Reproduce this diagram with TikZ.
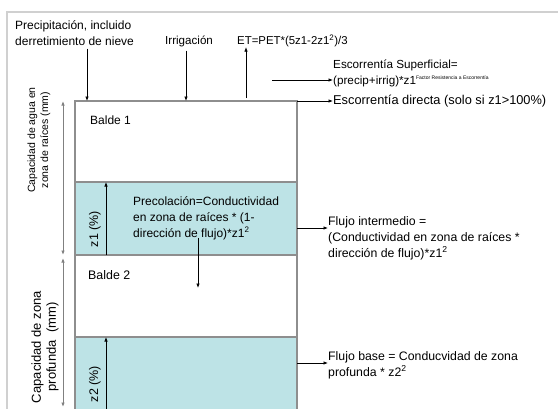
\documentclass[tikz,border=0pt]{standalone}
\usepackage{fontspec}
\setmainfont{Liberation Sans}
\usetikzlibrary{arrows.meta}
\definecolor{cyanfill}{HTML}{BDE3E6}
\definecolor{boxline}{HTML}{8E8E8E}
\definecolor{frameline}{HTML}{D0D0D0}
\newcommand\myfs[1]{\fontsize{#1}{16}\selectfont}
\begin{document}
\begin{tikzpicture}[x=1pt,y=-1pt,
  txt/.style={inner sep=0pt, anchor=west, align=left, font=\myfs{12}},
  rtxt/.style={inner sep=0pt, rotate=90, align=center},
  arr/.style={-{Latex[length=4.5pt,width=3.5pt]}, line width=0.7pt},
  darr/.style={{Latex[length=4.5pt,width=3.5pt]}-{Latex[length=4.5pt,width=3.5pt]}, line width=0.9pt, draw=gray},
  zone/.style={draw=boxline, line width=1.1pt}]
\useasboundingbox (0,0) rectangle (558,408);
\clip (0,0) rectangle (558,408);
% frame
\draw[frameline, line width=1.5pt] (7,430) |- (580,12);
% fills
\fill[cyanfill] (75,182) rectangle (297,255);
\fill[cyanfill] (75,337) rectangle (297,430);
% box
\draw[zone] (75,430) -- (75,101) -- (297,101) -- (297,430);
\draw[zone] (75,182) -- (297,182);
\draw[zone] (75,255) -- (297,255);
\draw[zone] (75,337) -- (297,337);
% coordinates
\coordinate (precipIn) at (87,101);
\coordinate (irrIn) at (186,101);
\coordinate (etOut) at (246,98);
\coordinate (supStart) at (272,80);
\coordinate (boxTR) at (297,101);
\coordinate (interStart) at (297,228);
\coordinate (baseStart) at (297,363);
\coordinate (z1bot) at (106,255);
\coordinate (z1top) at (106,182);
\coordinate (z2bot) at (106,410);
\coordinate (z2top) at (106,337);
\coordinate (percEnd) at (198,288);
\coordinate (c1top) at (63,101);
\coordinate (c1bot) at (63,255);
\coordinate (c2top) at (63,258);
\coordinate (c2bot) at (63,407);
% top texts
\node[txt] (precip) at (15,33) {Precipitación, incluido\\derretimiento de nieve};
\node[txt, font=\myfs{11.6}] (irr) at (165,41) {Irrigación};
\node[txt, font=\myfs{11.4}] (et) at (237,41) {ET=PET*(5z1-2z1\textsuperscript{2})/3};
% right texts
\node[txt, font=\myfs{11.7}] (sup) at (333,73) {Escorrentía Superficial=\\(precip+irrig)*z1\textsuperscript{\fontsize{5}{5}\selectfont Factor Resistencia a Escorrentía}};
\node[txt, font=\myfs{12.8}] (dir) at (333,101) {Escorrentía directa (solo si z1>100\%)};
\node[txt, font=\myfs{12.3}] (inter) at (328,238) {Flujo intermedio =\\(Conductividad en zona de raíces *\\dirección de flujo)*z1\textsuperscript{2}};
\node[txt, font=\myfs{12.3}] (base) at (328,365) {Flujo base = Conducvidad de zona\\profunda * z2\textsuperscript{2}};
% inner texts
\node[txt] (b1) at (90,120) {Balde 1};
\node[txt, font=\myfs{12.4}] (b2) at (88,275) {Balde 2};
\node[txt] (perc) at (133,218) {Precolación=Conductividad\\en zona de raíces * (1-\\dirección de flujo)*z1\textsuperscript{2}};
\node[rtxt, font=\myfs{12.5}] (z1l) at (95,229) {z1 (\%)};
\node[rtxt, font=\myfs{12.5}] (z2l) at (95,384) {z2 (\%)};
% left rotated labels
\node[rtxt, font=\fontsize{10.5}{13}\selectfont] (cap1) at (39,140) {Capacidad de agua en\\zona de raíces (mm)};
\node[rtxt, font=\fontsize{13}{15}\selectfont] (cap2) at (45,347) {Capacidad de zona\\profunda\ \ (mm)};
% arrows
\draw[arr] (precip.south -| precipIn) ++(0,3) -- (precipIn);
\draw[arr] (irr.south -| irrIn) ++(0,4) -- (irrIn);
\draw[arr] (etOut) -- (et.south -| etOut);
\draw[arr] (supStart) -- (sup.west |- supStart);
\draw[arr] (boxTR) -- (dir.west);
\draw[arr] (interStart) -- (inter.west |- interStart);
\draw[arr] (baseStart) -- (base.west |- baseStart);
\draw[arr] (z1bot) -- (z1top);
\draw[arr] (z2bot) -- (z2top);
\draw[arr] (perc.south -| percEnd) ++(0,-2) -- (percEnd);
\draw[darr] (c1top) -- (c1bot);
\draw[darr] (c2top) -- (c2bot);
\end{tikzpicture}
\end{document}
